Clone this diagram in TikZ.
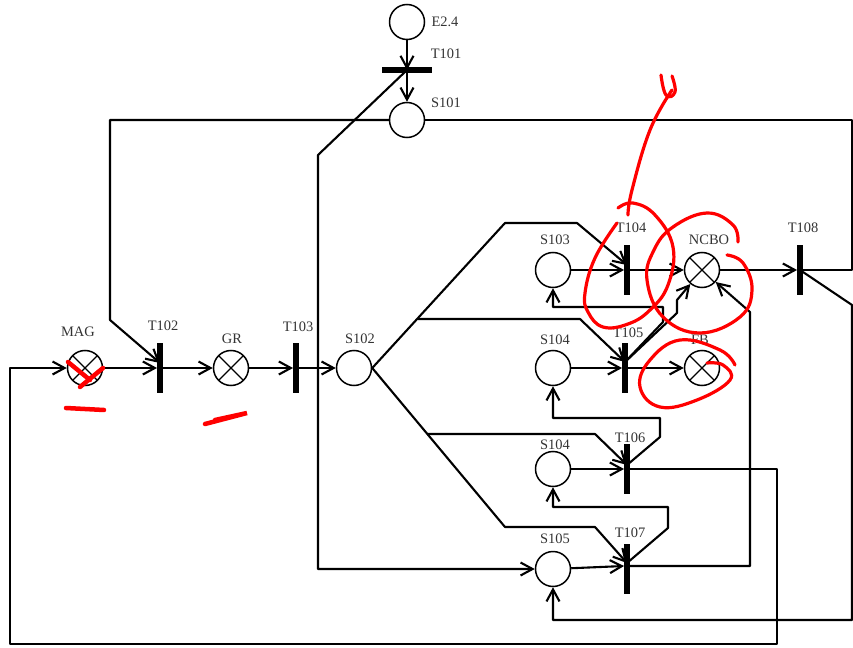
\documentclass[tikz,border=0pt]{standalone}
\usepackage{fontspec}
\setmainfont{Liberation Serif}
\usetikzlibrary{arrows.meta,calc}

\tikzset{
  place/.style={circle,draw,line width=1.5bp,fill=white,minimum size=35bp,inner sep=0pt},
  lamp/.style={place,path picture={
    \draw [line width=1.2bp] (path picture bounding box.north west) -- (path picture bounding box.south east);
    \draw [line width=1.2bp] (path picture bounding box.north east) -- (path picture bounding box.south west);}},
  vbar/.style={rectangle,fill=black,minimum width=5.5bp,minimum height=50bp,inner sep=0pt},
  hbar/.style={rectangle,fill=black,minimum width=50bp,minimum height=5.5bp,inner sep=0pt},
  tag/.style={inner sep=0pt,text=black!80,font=\fontsize{14.5}{16}\selectfont},
  arc/.style={line width=2.1bp,line join=bevel},
  pen/.style={red,line width=3.2bp,line cap=round,line join=round},
  marker/.style={red,line width=4.5bp,line cap=round}
}

\begin{document}
\begin{tikzpicture}[x=1bp,y=-1bp,>={Straight Barb[length=12bp,width=13bp]}]
  \useasboundingbox (0,0) rectangle (853,648);
  % Node: places
  \node [place] (E24) at (407,22) {};
  \node [place] (S101) at (407,120) {};
  \node [place] (S102) at (354,368) {};
  \node [place] (S103) at (553,270) {};
  \node [place] (S104) at (553,368) {};
  \node [place] (S104b) at (553,469) {};
  \node [place] (S105) at (553,569) {};
  % Node: lamps
  \node [lamp] (MAG) at (85,368) {};
  \node [lamp] (GR) at (231,368) {};
  \node [lamp] (NCBO) at (702,270) {};
  \node [lamp] (FB) at (702,368) {};
  % Node: bars
  \node [hbar] (T101) at (407,70) {};
  \node [vbar] (T102) at (160,368) {};
  \node [vbar] (T103) at (296,368) {};
  \node [vbar] (T104) at (627,270) {};
  \node [vbar] (T105) at (625,368) {};
  \node [vbar] (T106) at (627,469) {};
  \node [vbar] (T107) at (627,569) {};
  \node [vbar] (T108) at (800,270) {};
  % branch points on the S102 fan
  \coordinate (forkA) at (418,319);
  \coordinate (forkB) at (427,434);
  % Edge: top
  \draw [arc,->] (E24) -- (T101.center);
  \draw [arc,->] (T101.center) -- (S101);
  \draw [arc,->] (S101.west) -- (110,120) -- (110,320) -- ([yshift=5bp]T102.center);
  \draw [arc] (S101.east) -- (852,120) -- (852,270) -- (T108.center);
  \draw [arc,->] (T101.center) -- (318,155) -- (318,569) -- (S105);
  % Edge: main row
  \draw [arc,->] (MAG) -- (T102.west);
  \draw [arc,->] (T102.east) -- (GR);
  \draw [arc,->] (GR) -- (T103.west);
  \draw [arc,->] (T103.east) -- (S102);
  % Edge: S102 fan
  \draw [arc,->] (S102.east) -- (505,223) -- (577,223) -- ([yshift=5bp]T104.center);
  \draw [arc,->] (forkA) -- (580,319) -- ([yshift=6bp]T105.center);
  \draw [arc,->] (forkB) -- (595,434) -- ([yshift=4bp]T106.center);
  \draw [arc,->] (S102.east) -- (505,527) -- (595,527) -- ([yshift=6bp]T107.center);
  % Edge: rows
  \draw [arc,->] (S103) -- (T104.west);
  \draw [arc,->] (T104.east) -- (NCBO);
  \draw [arc,->] (NCBO) -- (T108.west);
  \draw [arc,->] (S104) -- (T105.west);
  \draw [arc,->] (T105.east) -- (FB);
  \draw [arc,->] (S104b) -- (T106.west);
  \draw [arc,->] (S105) -- ([yshift=3bp]T107.west);
  % Edge: returns
  \draw [arc,->] ([yshift=6bp]T105.center) -- (663,322) -- (663,307) -- (553,307) -- (S103);
  \draw [arc,->] ([yshift=6bp]T105.center) -- (677,313) -- (677,300) -- (NCBO);
  \draw [arc,->] ([yshift=4bp]T106.center) -- (660,437) -- (660,418) -- (553,418) -- (S104);
  \draw [arc,->] ([yshift=6bp]T107.center) -- (668,528) -- (668,507) -- (553,507) -- (S104b);
  \draw [arc,->] ([yshift=3bp]T107.east) -- (750,566) -- (750,312) -- (NCBO);
  \draw [arc,->] (T108.center) -- (852,305) -- (852,620) -- (553,620) -- (S105);
  \draw [arc,->] (T106.east) -- (777,469) -- (777,644) -- (10,644) -- (10,368) -- (MAG);
  % Labels
  \node [tag] (lE24) at (445,22) {E2.4};
  \node [tag] (lT101) at (446,54) {T101};
  \node [tag] (lS101) at (446,103) {S101};
  \node [tag] (lMAG) at (78,332) {MAG};
  \node [tag] (lT102) at (163,326) {T102};
  \node [tag] (lGR) at (232,339) {GR};
  \node [tag] (lT103) at (298,327) {T103};
  \node [tag] (lS102) at (360,339) {S102};
  \node [tag] (lS103) at (555,240) {S103};
  \node [tag] (lT104) at (631,228) {T104};
  \node [tag] (lNCBO) at (709,240) {NCBO};
  \node [tag] (lT108) at (803,228) {T108};
  \node [tag] (lS104) at (555,340) {S104};
  \node [tag] (lT105) at (628,333) {T105};
  \node [tag] (lFB) at (700,340) {FB};
  \node [tag] (lS104b) at (555,445) {S104};
  \node [tag] (lT106) at (630,438) {T106};
  \node [tag] (lS105) at (555,539) {S105};
  \node [tag] (lT107) at (630,533) {T107};
  % Red pen
  \draw [pen] plot [smooth,tension=.7] coordinates {(618,208) (633,203) (655,215) (673,247) (668,285) (650,310) (628,324) (603,327) (588,312) (585,293) (595,258) (617,223)};
  \draw [pen] plot [smooth,tension=.7] coordinates {(628,215) (632,190) (650,130) (672,90)};
  \draw [pen] plot [smooth,tension=.8] coordinates {(661,75) (666,95) (675,92) (672,76)};
  \draw [pen] plot [smooth,tension=.7] coordinates {(738,242) (733,225) (707,213) (673,227) (654,250) (647,280) (663,317) (700,333) (740,317) (752,290) (743,263) (727,255)};
  \draw [pen] plot [smooth,tension=.7] coordinates {(735,365) (720,350) (680,340) (650,360) (640,387) (660,407) (697,400) (730,380) (723,365) (707,363)};
  \draw [marker] (68,362) -- (90,380);
  \draw [marker] (103,368) -- (80,387);
  \draw [marker] (66,408) -- (104,410);
  \draw [marker] (205,424) -- (247,413) -- (215,420);
\end{tikzpicture}
\end{document}
